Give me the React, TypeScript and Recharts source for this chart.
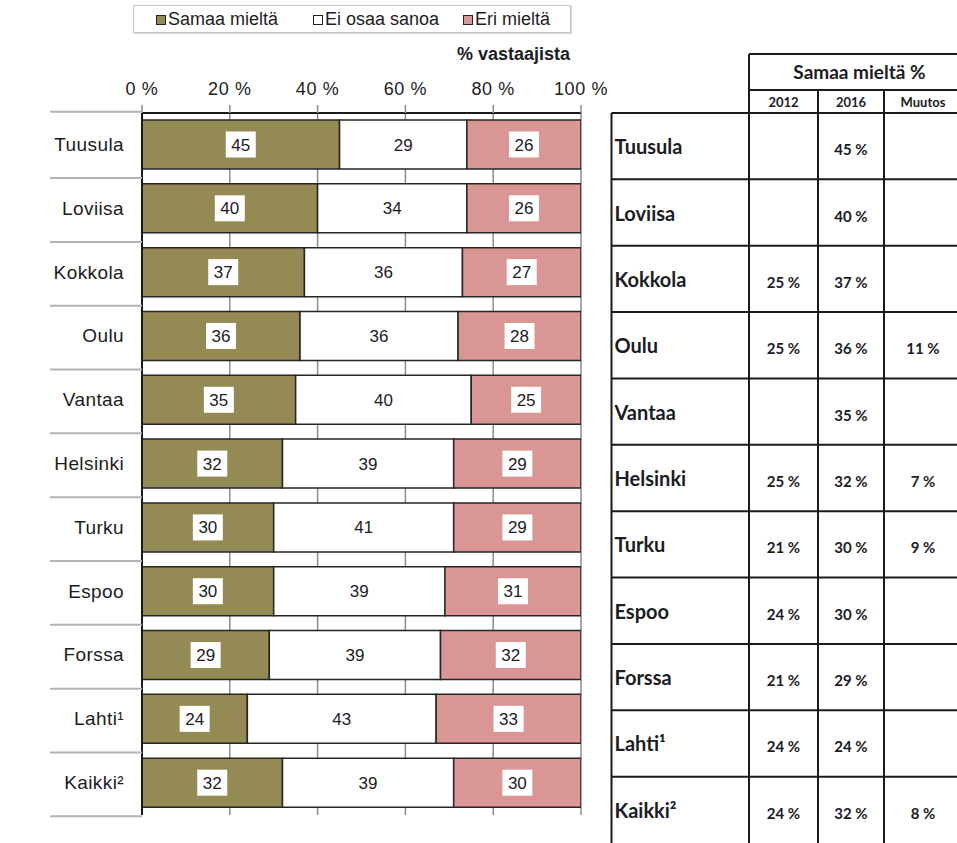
import { BarChart, Bar, XAxis, YAxis, CartesianGrid, Legend, LabelList } from 'recharts';

const categories = ['Tuusula', 'Loviisa', 'Kokkola', 'Oulu', 'Vantaa', 'Helsinki', 'Turku', 'Espoo', 'Forssa', 'Lahti¹', 'Kaikki²'];
const samaa = [45, 40, 37, 36, 35, 32, 30, 30, 29, 24, 32];
const eiOsaa = [29, 34, 36, 36, 40, 39, 41, 39, 39, 43, 39];
const eri = [26, 26, 27, 28, 25, 29, 29, 31, 32, 33, 30];
const xTicks = [0, 20, 40, 60, 80, 100];

// table on the right
const col2012 = ['', '', '25 %', '25 %', '', '25 %', '21 %', '24 %', '21 %', '24 %', '24 %'];
const col2016 = ['45 %', '40 %', '37 %', '36 %', '35 %', '32 %', '30 %', '30 %', '29 %', '24 %', '32 %'];
const colMuutos = ['', '', '', '11 %', '', '7 %', '9 %', '', '', '', '8 %'];
const tableHeader = 'Samaa mieltä %';
const subHeaders = ['2012', '2016', 'Muutos'];

const series = [
  { key: 'samaa', name: 'Samaa mieltä', color: '#948A54', boxed: true },
  { key: 'eiOsaa', name: 'Ei osaa sanoa', color: '#FFFFFF', boxed: false },
  { key: 'eri', name: 'Eri mieltä', color: '#D99694', boxed: true },
];

const data = categories.map((name, i) => ({ name, samaa: samaa[i], eiOsaa: eiOsaa[i], eri: eri[i] }));

const W = 957;
const H = 843;
const M = { top: 83, right: 376, bottom: 0, left: 0 };
const X_AXIS_H = 30;
const Y_AXIS_W = 142;
const plotTop = M.top + X_AXIS_H;
const plotH = H - plotTop - M.bottom;
const rowH = plotH / categories.length;

const FONT = '"Liberation Sans", Arial, sans-serif';
const TFONT = 'Lato, "Open Sans", sans-serif';
const TXT = '#1c1c24';

function YTick({ x, y, payload, index }: any) {
  const half = rowH / 2;
  return (
    <g>
      {index === 0 && <line x1={x - 74} x2={x + 18} y1={y - half} y2={y - half} stroke="#b4b4b4" strokeWidth={2} />}
      <line x1={x - 74} x2={x + 18} y1={y + half} y2={y + half} stroke="#b4b4b4" strokeWidth={2} />
      <text x={x} y={y} dy={6} textAnchor="end" fontSize={19} letterSpacing={0.4} fontFamily={FONT} fill={TXT}>
        {payload.value}
      </text>
    </g>
  );
}

function XTick({ x, y, payload }: any) {
  return (
    <text x={x} y={y} dy={-8} textAnchor="middle" fontSize={18} letterSpacing={0.6} fontFamily={FONT} fill={TXT}>
      {payload.value} %
    </text>
  );
}

const makeLabel = (boxed: boolean) => (props: any) => {
  const { x, y, width, height, value } = props;
  const cx = x + width / 2;
  const cy = y + height / 2;
  return (
    <g>
      {boxed && <rect x={cx - 15} y={cy - 13} width={30} height={26} fill="#fff" />}
      <text x={cx} y={cy} dy={6} textAnchor="middle" fontSize={17} fontFamily={FONT} fill={TXT}>
        {value}
      </text>
    </g>
  );
};

function LegendBox() {
  const pos = [22, 179, 329];
  return (
    <div style={{ position: 'relative', width: 438, height: 28, border: '1.5px solid #c4c4c4', boxShadow: '1px 1px 1px #ddd', boxSizing: 'border-box', background: '#fff' }}>
      {series.map((s, i) => (
        <div key={s.key} style={{ position: 'absolute', left: pos[i], top: 3, display: 'flex', alignItems: 'center', fontFamily: FONT, fontSize: 18, color: TXT, whiteSpace: 'nowrap' }}>
          <span style={{ display: 'inline-block', width: 8, height: 8, border: '1.5px solid #222', background: s.color, marginRight: 2 }} />
          {s.name}
        </div>
      ))}
    </div>
  );
}

function Table() {
  const cols = [611.5, 749, 818, 884, 962];
  const rows = categories.map((_, i) => plotTop + i * rowH);
  const lineProps = { stroke: '#1a1a1a', strokeWidth: 2 };
  const cellCx = (c: number) => (cols[c] + cols[c + 1]) / 2;
  return (
    <svg width={W} height={H} style={{ position: 'absolute', left: 0, top: 0 }}>
      <line x1={cols[1]} x2={W} y1={54} y2={54} {...lineProps} />
      <line x1={cols[1]} x2={W} y1={90} y2={90} {...lineProps} />
      <line x1={cols[1]} x2={cols[1]} y1={54} y2={H} {...lineProps} />
      <line x1={cols[2]} x2={cols[2]} y1={90} y2={H} {...lineProps} />
      <line x1={cols[3]} x2={cols[3]} y1={90} y2={H} {...lineProps} />
      <line x1={cols[0]} x2={cols[0]} y1={plotTop} y2={H} {...lineProps} />
      <text x={(cols[1] + cols[4]) / 2 + 4} y={79} textAnchor="middle" fontSize={19} fontWeight={700} fontFamily={TFONT} fill={TXT}>
        {tableHeader}
      </text>
      {subHeaders.map((s, i) => (
        <text key={s} x={cellCx(i + 1)} y={107} textAnchor="middle" fontSize={13} fontWeight={700} fontFamily={TFONT} fill={TXT}>
          {s}
        </text>
      ))}
      {rows.map((top, i) => (
        <g key={i}>
          <line x1={cols[0]} x2={W} y1={top} y2={top} {...lineProps} />
          <text x={cols[0] + 3} y={top + rowH / 2 + 8} fontSize={20} fontWeight={700} fontFamily={TFONT} fill={TXT}>
            {categories[i]}
          </text>
          {[col2012[i], col2016[i], colMuutos[i]].map((v, c) => (
            <text key={c} x={cellCx(c + 1)} y={top + rowH / 2 + 9} textAnchor="middle" fontSize={15} fontWeight={700} fontFamily={TFONT} fill={TXT}>
              {v}
            </text>
          ))}
        </g>
      ))}
    </svg>
  );
}

export default function App() {
  return (
    <div style={{ position: 'absolute', left: 0, top: 0, width: W, height: H, background: '#fff' }}>
      <BarChart width={W} height={H} data={data} layout="vertical" margin={M} barSize={49}>
        <CartesianGrid horizontal={false} vertical stroke="#8c8c8c" strokeWidth={1.5} />
        <XAxis
          type="number" orientation="top" domain={[0, 100]} ticks={xTicks} allowDataOverflow
          height={X_AXIS_H} tickSize={8} tickMargin={2} tick={<XTick />}
          axisLine={{ stroke: '#1a1a1a', strokeWidth: 2 }} tickLine={{ stroke: '#8c8c8c', strokeWidth: 1.5 }}
        />
        <YAxis
          type="category" dataKey="name" width={Y_AXIS_W} tickSize={0} tickMargin={18}
          tick={<YTick />} axisLine={{ stroke: '#1a1a1a', strokeWidth: 2 }} interval={0}
        />
        <Legend
          content={() => <LegendBox />}
          wrapperStyle={{ position: 'absolute', top: 5, left: 133, width: 438, height: 28 }}
        />
        {series.map((s) => (
          <Bar key={s.key} dataKey={s.key} name={s.name} stackId="a" fill={s.color} stroke="#262626" strokeWidth={1.5} isAnimationActive={false}>
            <LabelList dataKey={s.key} content={makeLabel(s.boxed)} />
          </Bar>
        ))}
      </BarChart>
      <div style={{ position: 'absolute', left: 0, width: 570, top: 44, textAlign: 'right', fontFamily: FONT, fontWeight: 700, fontSize: 18, color: TXT }}>
        % vastaajista
      </div>
      <Table />
    </div>
  );
}
